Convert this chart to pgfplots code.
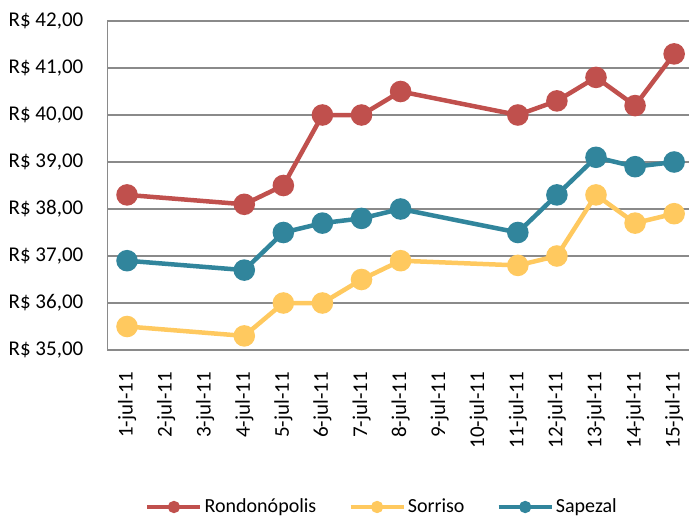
\documentclass[border=0pt]{standalone}
\usepackage{fontspec}
\setmainfont{Carlito}
\usepackage{pgfplots}
\pgfplotsset{compat=1.18}
\definecolor{cRed}{HTML}{C0504D}
\definecolor{cYel}{HTML}{FFC95F}
\definecolor{cTeal}{HTML}{31859C}
\definecolor{gridgray}{HTML}{8A8A8A}
\newcommand{\chartfont}{\fontsize{21bp}{24bp}\selectfont}
\begin{document}
\chartfont
\begin{tikzpicture}
\path[use as bounding box] (-107.5bp,-169bp) rectangle (581.5bp,350bp);
\begin{axis}[
  at={(0,0)}, anchor=south west,
  scale only axis, width=581.5bp, height=329bp,
  xmin=0.5, xmax=15.38, ymin=35, ymax=42,
  axis x line*=bottom, axis y line*=left,
  axis line style={draw=gridgray, line width=1.4bp, -},
  ymajorgrids, major grid style={draw=gridgray, line width=1.4bp},
  major tick length=0pt,
  xtick={1,...,15},
  xticklabels={1-jul-11,2-jul-11,3-jul-11,4-jul-11,5-jul-11,6-jul-11,7-jul-11,8-jul-11,9-jul-11,10-jul-11,11-jul-11,12-jul-11,13-jul-11,14-jul-11,15-jul-11},
  xticklabel style={rotate=90, anchor=east, font=\chartfont},
  xticklabel shift=15bp,
  ytick={35,36,37,38,39,40,41,42},
  yticklabels={{R\$ 35,00},{R\$ 36,00},{R\$ 37,00},{R\$ 38,00},{R\$ 39,00},{R\$ 40,00},{R\$ 41,00},{R\$ 42,00}},
  yticklabel style={font=\chartfont},
  yticklabel shift=17bp,
  clip=false,
  legend columns=3,
  legend style={at={(0.472,-0.4772)}, anchor=center, draw=none, fill=none,
    font=\fontsize{20bp}{23bp}\selectfont,
    /tikz/every even column/.append style={column sep=30bp}},
  legend image code/.code={
    \draw[#1, mark repeat=2, mark phase=2, mark size=3.8bp] plot coordinates {(0bp,0bp) (26.5bp,0bp) (53bp,0bp)};
  },
]
\addplot[cRed, line width=4.5bp, mark=*, mark size=8.5bp, mark options={draw=none, fill=cRed}]
coordinates {(1,38.3) (4,38.1) (5,38.5) (6,40.0) (7,40.0) (8,40.5) (11,40.0) (12,40.3) (13,40.8) (14,40.2) (15,41.3)};
\addlegendentry{Rondonópolis}
\addplot[cYel, line width=4.5bp, mark=*, mark size=8.5bp, mark options={draw=none, fill=cYel}]
coordinates {(1,35.5) (4,35.3) (5,36.0) (6,36.0) (7,36.5) (8,36.9) (11,36.8) (12,37.0) (13,38.3) (14,37.7) (15,37.9)};
\addlegendentry{Sorriso}
\addplot[cTeal, line width=4.5bp, mark=*, mark size=8.5bp, mark options={draw=none, fill=cTeal}]
coordinates {(1,36.9) (4,36.7) (5,37.5) (6,37.7) (7,37.8) (8,38.0) (11,37.5) (12,38.3) (13,39.1) (14,38.9) (15,39.0)};
\addlegendentry{Sapezal}
\end{axis}
\end{tikzpicture}
\end{document}
